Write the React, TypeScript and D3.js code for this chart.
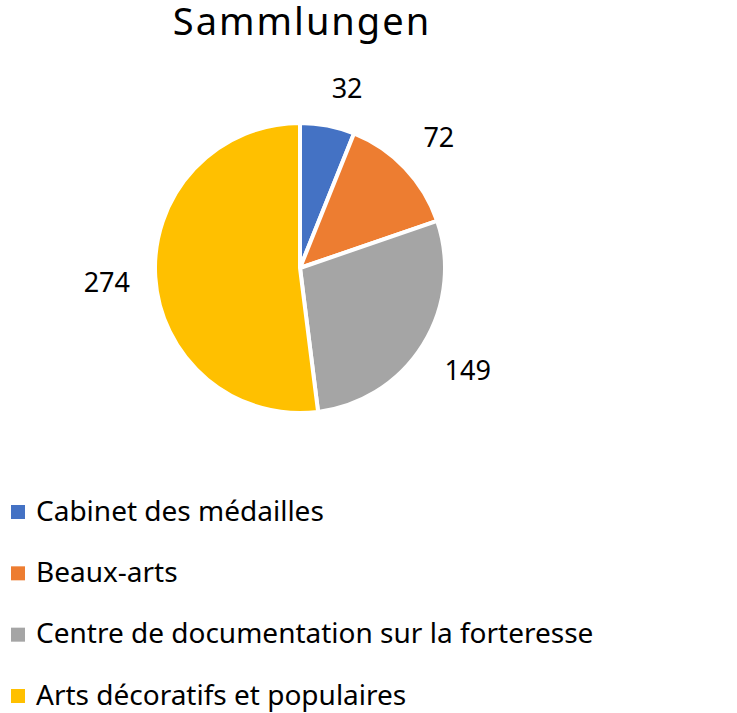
import React from "react";
import * as d3 from "d3";

const categories = [
	"Cabinet des médailles",
	"Beaux-arts",
	"Centre de documentation sur la forteresse",
	"Arts décoratifs et populaires",
];
const values = [32, 72, 149, 274];
const colors = ["#4472C4", "#ED7D31", "#A5A5A5", "#FFC000"];

const W = 737;
const H = 713;
const FONT = "'Noto Sans', 'Open Sans', sans-serif";
const LABEL_SIZE = 27;

export default function App() {
	const cx = 300;
	const cy = 268;
	const radius = 145;

	const pie = d3
		.pie<number>()
		.sort(null)
		.value((d) => d);
	const arcs = pie(values);
	const arc = d3.arc<d3.PieArcDatum<number>>().innerRadius(0).outerRadius(radius);
	// anchor point just outside the rim; the label box is pushed outward from it
	const anchorArc = d3
		.arc<d3.PieArcDatum<number>>()
		.innerRadius(radius + 25)
		.outerRadius(radius + 25);
	const push = d3.scaleLinear().domain([-0.2, 0.2]).range([-1, 1]).clamp(true);

	const legendY = d3.scalePoint<string>().domain(categories).range([511, 695]);

	return (
		<svg
			width={W}
			height={H}
			style={{ position: "absolute", left: 0, top: 0, background: "#fff", fontFamily: FONT }}
		>
			<text x={302} y={35} textAnchor="middle" fontSize={38} letterSpacing={2} fill="#000">
				Sammlungen
			</text>
			<g transform={`translate(${cx},${cy})`}>
				{arcs.map((a, i) => (
					<path key={i} d={arc(a) ?? ""} fill={colors[i]} stroke="#fff" strokeWidth={4} strokeLinejoin="round" />
				))}
				{arcs.map((a, i) => {
					const [px, py] = anchorArc.centroid(a);
					const mid = (a.startAngle + a.endAngle) / 2;
					const hw = String(values[i]).length * 0.29 * LABEL_SIZE;
					const hh = 13;
					const x = px + push(Math.sin(mid)) * hw;
					const y = py - push(Math.cos(mid)) * hh;
					return (
						<text key={i} x={x} y={y} dy="0.35em" textAnchor="middle" fontSize={LABEL_SIZE} fill="#000">
							{values[i]}
						</text>
					);
				})}
			</g>
			<g>
				{categories.map((c, i) => (
					<g key={c} transform={`translate(0,${legendY(c)})`}>
						<rect x={11} y={-6} width={14} height={14} fill={colors[i]} />
						<text x={36} y={0} dy="0.35em" fontSize={28} fill="#000">
							{c}
						</text>
					</g>
				))}
			</g>
		</svg>
	);
}
